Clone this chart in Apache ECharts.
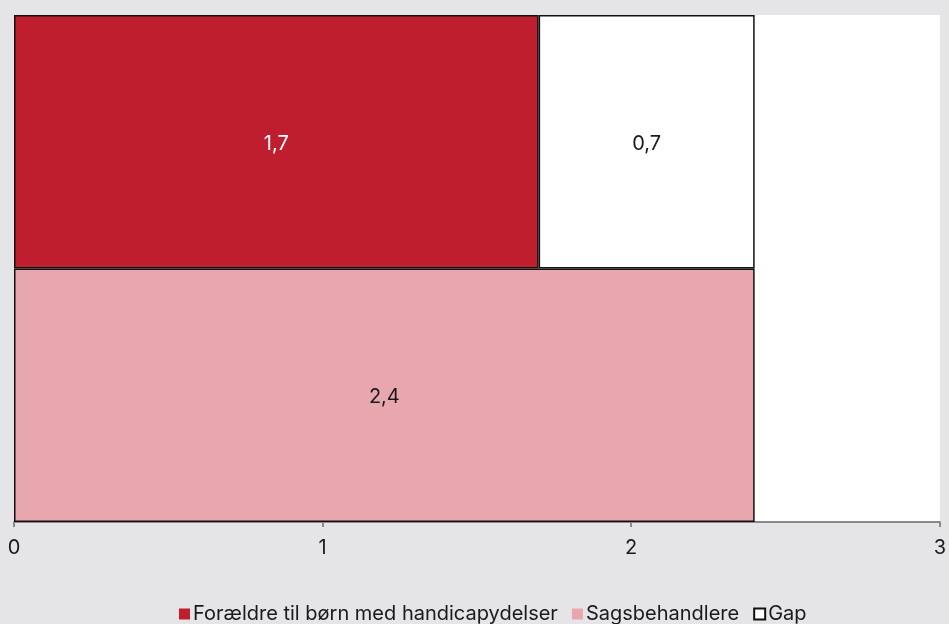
<!DOCTYPE html>
<html>
<head>
<meta charset="utf-8">
<script src="https://cdn.jsdelivr.net/npm/echarts@6/dist/echarts.min.js"></script>
<style>
  html, body { margin: 0; padding: 0; background: #e5e5e7; }
  #chart { width: 949px; height: 624px; }
</style>
</head>
<body>
<div id="chart"></div>
<script>
var categories = ['Forældre til børn med handicapydelser', 'Sagsbehandlere'];
var foraeldre = [1.7, null];
var sagsbehandlere = [null, 2.4];
var gap = [0.7, null];
var xTicks = [0, 1, 2, 3];

var chart = echarts.init(document.getElementById('chart'));

function comma(p) {
  return String(p.value).replace('.', ',');
}

var option = {
  backgroundColor: '#e5e5e7',
  textStyle: { fontFamily: 'Inter' },
  grid: {
    left: 14, right: 5, top: 15, bottom: 102,
    show: true, backgroundColor: '#ffffff', borderWidth: 0
  },
  legend: {
    top: 599,
    left: 174,
    icon: 'rect',
    itemWidth: 11,
    itemHeight: 11,
    itemGap: 14,
    textStyle: { fontSize: 20, color: '#1a1a1a', fontFamily: 'Inter', padding: [0, 0, 0, -2] },
    data: [
      { name: 'Forældre til børn med handicapydelser', itemStyle: { borderWidth: 0 } },
      { name: 'Sagsbehandlere', itemStyle: { borderWidth: 0 } },
      { name: 'Gap', itemStyle: { borderColor: '#111', borderWidth: 2 } }
    ]
  },
  xAxis: {
    type: 'value',
    min: xTicks[0],
    max: xTicks[xTicks.length - 1],
    interval: 1,
    splitLine: { show: false },
    axisLine: { show: true, lineStyle: { color: '#8a8a8a', width: 2 } },
    axisTick: { show: true, length: 5, lineStyle: { color: '#8a8a8a', width: 2 } },
    axisLabel: { fontSize: 20, color: '#1a1a1a', margin: 16 }
  },
  yAxis: {
    type: 'category',
    inverse: true,
    data: categories,
    axisLine: { show: false },
    axisTick: { show: false },
    axisLabel: { show: false }
  },
  series: [
    {
      name: 'Forældre til børn med handicapydelser',
      type: 'bar', stack: 'total', barCategoryGap: 0,
      data: foraeldre,
      itemStyle: { color: '#be1e2d', borderColor: '#111', borderWidth: 1.5 },
      label: { show: true, position: 'inside', offset: [0, 2], color: '#fff', fontSize: 20, formatter: comma }
    },
    {
      name: 'Sagsbehandlere',
      type: 'bar', stack: 'total', barCategoryGap: 0,
      data: sagsbehandlere,
      itemStyle: { color: '#e8a7ac', borderColor: '#111', borderWidth: 1.5 },
      label: { show: true, position: 'inside', offset: [0, 2], color: '#1a1a1a', fontSize: 20, formatter: comma }
    },
    {
      name: 'Gap',
      type: 'bar', stack: 'total', barCategoryGap: 0,
      data: gap,
      itemStyle: { color: '#ffffff', borderColor: '#111', borderWidth: 1.5 },
      label: { show: true, position: 'inside', offset: [0, 2], color: '#1a1a1a', fontSize: 20, formatter: comma }
    }
  ]
};

chart.setOption(option);
</script>
</body>
</html>
